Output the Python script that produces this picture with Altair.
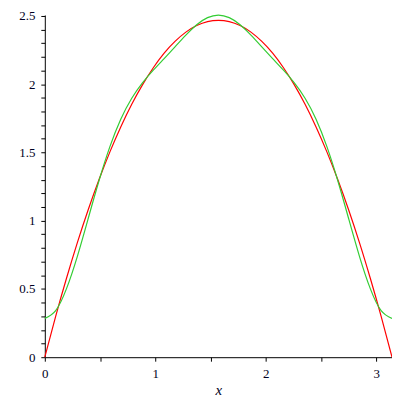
import altair as alt
import pandas as pd

x_vals = [0.0, 0.0982, 0.1963, 0.2945, 0.3927, 0.4909, 0.5890, 0.6872, 0.7854,
          0.8836, 0.9817, 1.0799, 1.1781, 1.2763, 1.3744, 1.4726, 1.5708,
          1.6690, 1.7671, 1.8653, 1.9635, 2.0617, 2.1598, 2.2580, 2.3562,
          2.4544, 2.5525, 2.6507, 2.7489, 2.8471, 2.9452, 3.0434, 3.1416]

red_vals = [0.0, 0.299, 0.578, 0.839, 1.080, 1.301, 1.504, 1.687, 1.851,
            1.995, 2.120, 2.227, 2.313, 2.381, 2.429, 2.458, 2.467,
            2.458, 2.429, 2.381, 2.313, 2.227, 2.120, 1.995, 1.851,
            1.687, 1.504, 1.301, 1.080, 0.839, 0.578, 0.299, 0.0]

green_vals = [0.284, 0.341, 0.502, 0.739, 1.016, 1.294, 1.542, 1.743, 1.895,
              2.009, 2.102, 2.187, 2.273, 2.359, 2.435, 2.487, 2.506,
              2.487, 2.435, 2.359, 2.273, 2.187, 2.102, 2.009, 1.895,
              1.743, 1.542, 1.294, 1.016, 0.739, 0.502, 0.341, 0.284]

x_ticks = [0, 0.5, 1, 1.5, 2, 2.5, 3]
y_ticks = [0, 0.1, 0.2, 0.3, 0.4, 0.5, 0.6, 0.7, 0.8, 0.9, 1.0, 1.1, 1.2, 1.3,
           1.4, 1.5, 1.6, 1.7, 1.8, 1.9, 2.0, 2.1, 2.2, 2.3, 2.4, 2.5]

series_names = ["red", "green"]
series_colors = ["#ff0000", "#33cc33"]

rows = []
for name, vals in zip(series_names, [red_vals, green_vals]):
    for i, (xv, yv) in enumerate(zip(x_vals, vals)):
        rows.append({"x": xv, "y": yv, "series": name, "order": i})
df = pd.DataFrame(rows)

label_font = "Liberation Serif"

chart = alt.Chart(df).mark_line(strokeWidth=1.2, interpolate="natural").encode(
    x=alt.X("x:Q",
            scale=alt.Scale(domain=[0, 3.1416], nice=False, zero=False),
            axis=alt.Axis(values=x_ticks, title="x", grid=False,
                          labelExpr="datum.value % 1 == 0 ? format(datum.value, '~g') : ''",
                          tickSize=4, labelPadding=6, titlePadding=3,
                          titleFont=label_font, titleFontStyle="italic",
                          titleFontWeight="normal", titleFontSize=15,
                          labelFont=label_font, labelFontSize=13,
                          labelColor="#000022", domainColor="black",
                          tickColor="black", titleColor="#000022",
                          labelFlush=False)),
    y=alt.Y("y:Q",
            scale=alt.Scale(domain=[0, 2.5066], nice=False, zero=False),
            axis=alt.Axis(values=y_ticks, title=None, grid=False,
                          labelExpr="round(datum.value * 10) % 5 == 0 ? format(datum.value, '~g') : ''",
                          tickSize=4, labelPadding=6,
                          labelFont=label_font, labelFontSize=13,
                          labelColor="#000022", domainColor="black",
                          tickColor="black", labelFlush=False)),
    color=alt.Color("series:N",
                    scale=alt.Scale(domain=series_names, range=series_colors),
                    legend=None),
    order="order:Q",
).properties(
    width=349,
    height=344,
    autosize=alt.AutoSizeParams(type="none"),
    padding={"left": 37, "top": 6, "right": 0, "bottom": 40},
).configure_view(stroke=None)

chart.save("out.html", embed_options={"renderer": "svg", "actions": False})
